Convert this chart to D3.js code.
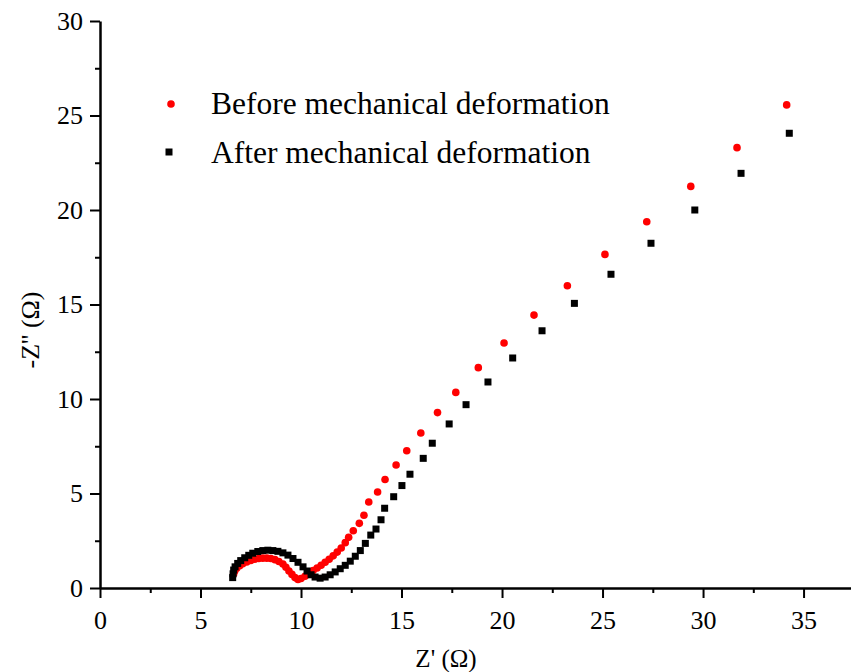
<!DOCTYPE html>
<html>
<head>
<meta charset="utf-8">
<script src="https://cdn.jsdelivr.net/npm/d3@7"></script>
<style>
  body { margin: 0; background: #fff; }
  svg text { font-family: "Liberation Serif", "Times New Roman", serif; }
</style>
</head>
<body>
<div id="chart"></div>
<script>
// Z' (ohm) and -Z'' (ohm)
var beforeX = [6.65, 6.7, 6.8, 6.95, 7.1, 7.3, 7.5, 7.7, 7.9, 8.1, 8.3, 8.5, 8.7, 8.9, 9.1, 9.25, 9.4, 9.55, 9.7, 9.85,
  10.0, 10.2, 10.4, 10.6, 10.8, 11.0, 11.2, 11.4, 11.6, 11.8, 12.0, 12.2, 12.37, 12.6, 12.9, 13.13, 13.37, 13.81,
  14.18, 14.73, 15.26, 15.96, 16.79, 17.7, 18.82, 20.1, 21.59, 23.25, 25.12, 27.2, 29.39, 31.69, 34.16];
var beforeY = [0.75, 0.9, 1.05, 1.18, 1.28, 1.38, 1.46, 1.52, 1.56, 1.58, 1.58, 1.56, 1.5, 1.4, 1.27, 1.1, 0.9, 0.72, 0.55, 0.45,
  0.5, 0.62, 0.78, 0.92, 1.06, 1.2, 1.36, 1.52, 1.7, 1.9, 2.12, 2.4, 2.68, 3.03, 3.42, 3.85, 4.55, 5.08,
  5.74, 6.51, 7.26, 8.2, 9.28, 10.35, 11.66, 12.96, 14.44, 15.99, 17.65, 19.38, 21.25, 23.3, 25.56];

var afterX = [6.6, 6.62, 6.65, 6.72, 6.85, 7.0, 7.2, 7.4, 7.6, 7.85, 8.1, 8.35, 8.6, 8.85, 9.1, 9.35, 9.6, 9.85, 10.1,
  10.3, 10.5, 10.7, 10.95, 11.2, 11.45, 11.7, 11.95, 12.2, 12.45, 12.7, 12.95, 13.2, 13.47, 13.73, 13.98, 14.16,
  14.61, 15.02, 15.42, 16.08, 16.53, 17.37, 18.21, 19.3, 20.53, 21.99, 23.6, 25.42, 27.41, 29.59, 31.89, 34.29];
var afterY = [0.55, 0.75, 0.95, 1.12, 1.3, 1.45, 1.6, 1.73, 1.84, 1.93, 1.98, 2.0, 1.98, 1.94, 1.86, 1.74, 1.56, 1.36, 1.12,
  0.9, 0.7, 0.58, 0.52, 0.58, 0.7, 0.85, 1.02, 1.2, 1.42, 1.68, 1.98, 2.36, 2.8, 3.12, 3.61, 4.22,
  4.83, 5.42, 6.02, 6.86, 7.66, 8.68, 9.7, 10.9, 12.17, 13.61, 15.06, 16.6, 18.24, 20.0, 21.94, 24.06];

var xTicks = [0, 5, 10, 15, 20, 25, 30, 35];
var yTicks = [0, 5, 10, 15, 20, 25, 30];
var legendLabels = ["Before mechanical deformation", "After mechanical deformation"];

var width = 851, height = 672;

var svg = d3.select("#chart")
  .append("svg")
  .attr("width", width)
  .attr("height", height);

var xScale = d3.scaleLinear().domain([0, 37.36]).range([100, 851]);
var yScale = d3.scaleLinear().domain([0, 30]).range([588, 21]);

// minor ticks first (no labels)
svg.append("g")
  .attr("transform", "translate(0,588)")
  .call(d3.axisBottom(xScale).tickValues(d3.range(2.5, 37, 5)).tickSize(5).tickFormat(""))
  .call(g => g.select(".domain").remove())
  .selectAll("line").attr("stroke-width", 2);

svg.append("g")
  .attr("transform", "translate(100,0)")
  .call(d3.axisLeft(yScale).tickValues(d3.range(2.5, 30, 5)).tickSize(5).tickFormat(""))
  .call(g => g.select(".domain").remove())
  .selectAll("line").attr("stroke-width", 2);

var xAxis = svg.append("g")
  .attr("transform", "translate(0,588)")
  .call(d3.axisBottom(xScale).tickValues(xTicks).tickSize(10).tickSizeOuter(0).tickPadding(9));

var yAxis = svg.append("g")
  .attr("transform", "translate(100,0)")
  .call(d3.axisLeft(yScale).tickValues(yTicks).tickSize(10).tickSizeOuter(0).tickPadding(7));

[xAxis, yAxis].forEach(function (a) {
  a.select(".domain").attr("stroke-width", 2.5);
  a.selectAll("line").attr("stroke-width", 2);
  a.selectAll("text").attr("font-size", 26).attr("fill", "#000")
    .style("font-family", '"Liberation Serif", serif');
});
xAxis.selectAll("text").attr("dy", "0.85em");

// axis titles
svg.append("text")
  .attr("x", 446)
  .attr("y", 667)
  .attr("text-anchor", "middle")
  .attr("font-size", 25)
  .text("Z' (\u03A9)");

svg.append("text")
  .attr("transform", "translate(39,330) rotate(-90)")
  .attr("text-anchor", "middle")
  .attr("font-size", 26)
  .text("-Z'' (\u03A9)");

// data
var beforeData = beforeX.map(function (d, i) { return [d, beforeY[i]]; });
var afterData = afterX.map(function (d, i) { return [d, afterY[i]]; });

svg.append("g").selectAll("circle")
  .data(beforeData)
  .enter()
  .append("circle")
  .attr("cx", d => xScale(d[0]))
  .attr("cy", d => yScale(d[1]))
  .attr("r", 3.8)
  .attr("fill", "#ff0000");

svg.append("g").selectAll("rect")
  .data(afterData)
  .enter()
  .append("rect")
  .attr("x", d => xScale(d[0]) - 3.5)
  .attr("y", d => yScale(d[1]) - 3.5)
  .attr("width", 7)
  .attr("height", 7)
  .attr("fill", "#000");

// legend
var legend = svg.append("g");
legend.append("circle").attr("cx", 171).attr("cy", 104).attr("r", 3.8).attr("fill", "#ff0000");
legend.append("rect").attr("x", 165.5).attr("y", 148.5).attr("width", 7).attr("height", 7).attr("fill", "#000");
legend.selectAll("text")
  .data(legendLabels)
  .enter()
  .append("text")
  .attr("x", 211)
  .attr("y", (d, i) => 114 + i * 49)
  .attr("font-size", 31.5)
  .text(d => d);
</script>
</body>
</html>
